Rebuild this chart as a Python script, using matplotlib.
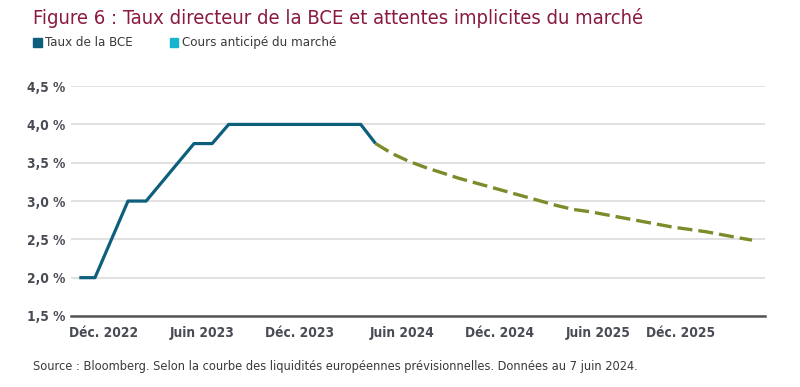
import matplotlib.pyplot as plt
from matplotlib.patches import Rectangle

# months counted from Dec. 2022 (= 0)
bce_months = [-1.45, -0.5, 1.5, 2.6, 5.5, 6.6, 7.6, 15.6, 16.5]
bce_rates = [2.0, 2.0, 3.0, 3.0, 3.75, 3.75, 4.0, 4.0, 3.75]

fwd_months = [16.5, 17.5, 18.5, 19.5, 20.5, 21.5, 22.5, 23.5, 24.5, 25.5, 26.5,
              27.5, 28.5, 29.5, 30.5, 31.5, 32.5, 33.5, 34.5, 35.5, 36.5, 37.5,
              38.5, 39.3]
fwd_rates = [3.75, 3.62, 3.52, 3.44, 3.37, 3.30, 3.24, 3.18, 3.12, 3.06, 3.00,
             2.94, 2.89, 2.86, 2.82, 2.78, 2.74, 2.70, 2.66, 2.63, 2.60, 2.56,
             2.52, 2.49]

tick_months = [0, 6, 11.9, 18.1, 24, 30, 35]
tick_labels = ['Déc. 2022', 'Juin 2023', 'Déc. 2023', 'Juin 2024',
               'Déc. 2024', 'Juin 2025', 'Déc. 2025']
y_ticks = [1.5, 2.0, 2.5, 3.0, 3.5, 4.0, 4.5]

fam = 'DejaVu Sans'
st = 'condensed'
c_bce = '#0d5f7b'
c_fwd = '#7b8c2b'
c_leg2 = '#17b4cf'
c_txt = '#4a4c55'

fig = plt.figure(figsize=(8, 3.87), dpi=100)
ax = fig.add_axes([0.089, 0.1835, 0.8675, 0.594])

ax.plot(bce_months, bce_rates, color=c_bce, lw=2.3, solid_capstyle='butt', zorder=3)
ax.plot(fwd_months, fwd_rates, color=c_fwd, lw=2.4, ls=(0, (4.5, 1.8)), zorder=3)

ax.set_xlim(-1.94, 40.1)
ax.set_ylim(1.5, 4.5)
ax.set_yticks(y_ticks)
ax.set_yticklabels([f'{v:.1f} %'.replace('.', ',') for v in y_ticks],
                   family=fam, stretch=st, fontsize=9.8, fontweight='bold', color=c_txt)
ax.set_xticks(tick_months)
ax.set_xticklabels(tick_labels, family=fam, stretch=st, fontsize=9.8,
                   fontweight='bold', color=c_txt)
ax.tick_params(length=0, pad=7)
ax.tick_params(axis='y', pad=4)
ax.grid(axis='y', color='#dcdcdc', lw=1.2)
ax.set_axisbelow(True)
for s in ['top', 'right', 'left']:
    ax.spines[s].set_visible(False)
ax.spines['bottom'].set_color('#555555')
ax.spines['bottom'].set_linewidth(1.8)

fig.text(0.041, 0.953, 'Figure 6 : Taux directeur de la BCE et attentes implicites du marché',
         fontsize=14.5, stretch=st, color='#8a1a40', va='center', ha='left')

fig.patches.append(Rectangle((0.041, 0.878), 0.011, 0.023, color=c_bce,
                             transform=fig.transFigure, figure=fig))
fig.text(0.056, 0.889, 'Taux de la BCE', family=fam, stretch=st, fontsize=9.5,
         color='#3a3a3a', va='center')
fig.patches.append(Rectangle((0.212, 0.878), 0.011, 0.023, color=c_leg2,
                             transform=fig.transFigure, figure=fig))
fig.text(0.227, 0.889, 'Cours anticipé du marché', family=fam, stretch=st, fontsize=9.5,
         color='#3a3a3a', va='center')

fig.text(0.041, 0.054, 'Source : Bloomberg. Selon la courbe des liquidités européennes '
         'prévisionnelles. Données au 7 juin 2024.', family=fam, stretch=st, fontsize=9.2,
         color='#3a3a3a', va='center')

fig.savefig('out.png', dpi=100)
